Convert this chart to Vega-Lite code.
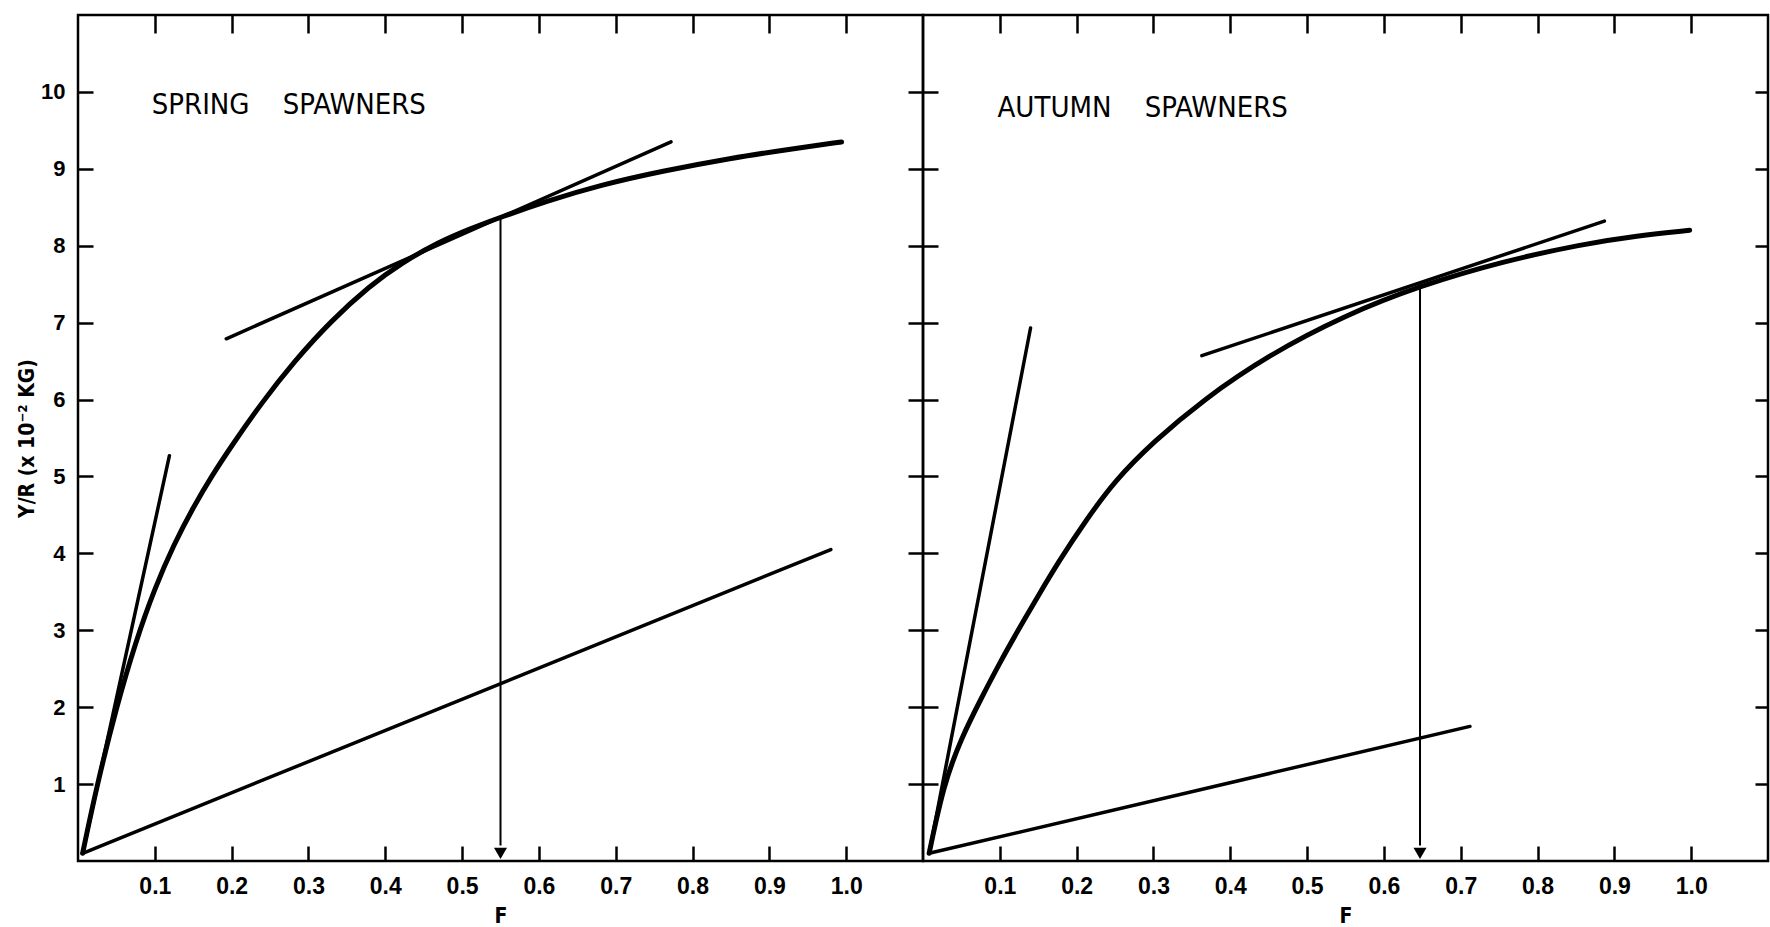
{
  "$schema": "https://vega.github.io/schema/vega-lite/v6.json",
  "autosize": {"type": "none"},
  "padding": {"left": 78, "top": 15, "right": 1692, "bottom": 912},
  "background": "white",
  "spacing": 0,
  "bounds": "flush",
  "datasets": {
    "d": [
      {"panel": "spring", "series": "curve", "F": 0.006, "Y": 0.1},
      {"panel": "spring", "series": "curve", "F": 0.025, "Y": 1.0},
      {"panel": "spring", "series": "curve", "F": 0.05, "Y": 2.0},
      {"panel": "spring", "series": "curve", "F": 0.075, "Y": 2.85},
      {"panel": "spring", "series": "curve", "F": 0.1, "Y": 3.55},
      {"panel": "spring", "series": "curve", "F": 0.125, "Y": 4.12},
      {"panel": "spring", "series": "curve", "F": 0.15, "Y": 4.6},
      {"panel": "spring", "series": "curve", "F": 0.175, "Y": 5.02},
      {"panel": "spring", "series": "curve", "F": 0.2, "Y": 5.4},
      {"panel": "spring", "series": "curve", "F": 0.24, "Y": 5.97},
      {"panel": "spring", "series": "curve", "F": 0.28, "Y": 6.48},
      {"panel": "spring", "series": "curve", "F": 0.33, "Y": 7.03},
      {"panel": "spring", "series": "curve", "F": 0.38, "Y": 7.48},
      {"panel": "spring", "series": "curve", "F": 0.42, "Y": 7.77},
      {"panel": "spring", "series": "curve", "F": 0.47, "Y": 8.05},
      {"panel": "spring", "series": "curve", "F": 0.51, "Y": 8.22},
      {"panel": "spring", "series": "curve", "F": 0.55, "Y": 8.37},
      {"panel": "spring", "series": "curve", "F": 0.61, "Y": 8.58},
      {"panel": "spring", "series": "curve", "F": 0.68, "Y": 8.79},
      {"panel": "spring", "series": "curve", "F": 0.76, "Y": 8.97},
      {"panel": "spring", "series": "curve", "F": 0.85, "Y": 9.14},
      {"panel": "spring", "series": "curve", "F": 0.93, "Y": 9.26},
      {"panel": "spring", "series": "curve", "F": 0.994, "Y": 9.35},
      {"panel": "spring", "series": "t0", "F": 0.006, "Y": 0.1},
      {"panel": "spring", "series": "t0", "F": 0.119, "Y": 5.27},
      {"panel": "spring", "series": "topt", "F": 0.193, "Y": 6.79},
      {"panel": "spring", "series": "topt", "F": 0.772, "Y": 9.35},
      {"panel": "spring", "series": "ray", "F": 0.006, "Y": 0.1},
      {"panel": "spring", "series": "ray", "F": 0.98, "Y": 4.05},
      {"panel": "spring", "series": "drop", "F": 0.55, "Y": 8.37},
      {"panel": "spring", "series": "drop", "F": 0.55, "Y": 0.2},
      {"panel": "spring", "series": "arrow", "F": 0.55, "Y": 0.1},
      {"panel": "spring", "series": "label", "F": 0.096, "Y": 9.71, "label": "SPRING\u00a0\u00a0\u00a0\u00a0SPAWNERS"},
      {"panel": "autumn", "series": "curve", "F": 0.008, "Y": 0.1},
      {"panel": "autumn", "series": "curve", "F": 0.027, "Y": 1.0},
      {"panel": "autumn", "series": "curve", "F": 0.05, "Y": 1.6},
      {"panel": "autumn", "series": "curve", "F": 0.075, "Y": 2.1},
      {"panel": "autumn", "series": "curve", "F": 0.1, "Y": 2.58},
      {"panel": "autumn", "series": "curve", "F": 0.125, "Y": 3.02},
      {"panel": "autumn", "series": "curve", "F": 0.15, "Y": 3.45},
      {"panel": "autumn", "series": "curve", "F": 0.177, "Y": 3.9},
      {"panel": "autumn", "series": "curve", "F": 0.21, "Y": 4.4},
      {"panel": "autumn", "series": "curve", "F": 0.25, "Y": 4.95},
      {"panel": "autumn", "series": "curve", "F": 0.3, "Y": 5.45},
      {"panel": "autumn", "series": "curve", "F": 0.365, "Y": 6.0},
      {"panel": "autumn", "series": "curve", "F": 0.45, "Y": 6.58},
      {"panel": "autumn", "series": "curve", "F": 0.55, "Y": 7.1},
      {"panel": "autumn", "series": "curve", "F": 0.647, "Y": 7.48},
      {"panel": "autumn", "series": "curve", "F": 0.756, "Y": 7.8},
      {"panel": "autumn", "series": "curve", "F": 0.858, "Y": 8.02},
      {"panel": "autumn", "series": "curve", "F": 0.93, "Y": 8.13},
      {"panel": "autumn", "series": "curve", "F": 0.998, "Y": 8.2},
      {"panel": "autumn", "series": "t0", "F": 0.008, "Y": 0.1},
      {"panel": "autumn", "series": "t0", "F": 0.14, "Y": 6.93},
      {"panel": "autumn", "series": "topt", "F": 0.363, "Y": 6.57},
      {"panel": "autumn", "series": "topt", "F": 0.887, "Y": 8.32},
      {"panel": "autumn", "series": "ray", "F": 0.008, "Y": 0.1},
      {"panel": "autumn", "series": "ray", "F": 0.712, "Y": 1.75},
      {"panel": "autumn", "series": "drop", "F": 0.647, "Y": 7.48},
      {"panel": "autumn", "series": "drop", "F": 0.647, "Y": 0.2},
      {"panel": "autumn", "series": "arrow", "F": 0.647, "Y": 0.1},
      {"panel": "autumn", "series": "label", "F": 0.097, "Y": 9.67, "label": "AUTUMN\u00a0\u00a0\u00a0\u00a0SPAWNERS"}
    ]
  },
  "hconcat": [
    {
      "width": 845,
      "height": 846,
      "data": {"name": "d"},
      "transform": [{"filter": "datum.panel === 'spring'"}],
      "layer": [
        {
          "transform": [{"filter": "datum.series === 'curve'"}],
          "mark": {"type": "line", "color": "black", "strokeWidth": 5, "interpolate": "basis", "strokeCap": "round"},
          "encoding": {
            "x": {"field": "F", "type": "quantitative", "scale": {"domain": [0, 1.1], "nice": false, "zero": false},
              "axis": {"orient": "bottom", "values": [0.1, 0.2, 0.3, 0.4, 0.5, 0.6, 0.7, 0.8, 0.9, 1.0], "format": ".1f", "tickSize": -15, "labelPadding": 29, "labelFontSize": 23, "labelOverlap": false, "labelFlush": false, "title": "F", "titleFontSize": 21, "titlePadding": 7}},
            "y": {"field": "Y", "type": "quantitative", "scale": {"domain": [0, 11], "nice": false},
              "axis": {"orient": "left", "values": [1, 2, 3, 4, 5, 6, 7, 8, 9, 10], "format": "d", "tickSize": -15, "labelPadding": 28, "labelFontSize": 22, "labelOverlap": false, "labelFlush": false, "title": "Y/R (x 10\u207b\u00b2 KG)", "titleFontSize": 21, "titlePadding": 3}}
          }
        },
        {
          "transform": [{"filter": "datum.series === 't0' || datum.series === 'topt' || datum.series === 'ray'"}],
          "mark": {"type": "line", "color": "black", "strokeWidth": 3.5, "strokeCap": "round"},
          "encoding": {
            "x": {"field": "F", "type": "quantitative", "axis": {"orient": "top", "values": [0.1, 0.2, 0.3, 0.4, 0.5, 0.6, 0.7, 0.8, 0.9, 1.0], "labels": false, "tickSize": -18, "title": null}},
            "y": {"field": "Y", "type": "quantitative", "axis": {"orient": "right", "values": [1, 2, 3, 4, 5, 6, 7, 8, 9, 10], "labels": false, "tickSize": -15, "title": null}},
            "detail": {"field": "series"}
          }
        },
        {
          "transform": [{"filter": "datum.series === 'drop'"}],
          "mark": {"type": "line", "color": "black", "strokeWidth": 2},
          "encoding": {
            "x": {"field": "F", "type": "quantitative", "axis": null},
            "y": {"field": "Y", "type": "quantitative", "axis": null}
          }
        },
        {
          "transform": [{"filter": "datum.series === 'arrow'"}],
          "mark": {"type": "point", "shape": "triangle-down", "filled": true, "color": "black", "size": 170, "opacity": 1},
          "encoding": {
            "x": {"field": "F", "type": "quantitative", "axis": null},
            "y": {"field": "Y", "type": "quantitative", "axis": null}
          }
        },
        {
          "transform": [{"filter": "datum.series === 'label'"}],
          "mark": {"type": "text", "align": "left", "baseline": "alphabetic", "fontSize": 29, "color": "black", "font": "DejaVu Sans Condensed, DejaVu Sans"},
          "encoding": {
            "x": {"field": "F", "type": "quantitative", "axis": null},
            "y": {"field": "Y", "type": "quantitative", "axis": null},
            "text": {"field": "label"}
          }
        }
      ]
    },
    {
      "width": 845,
      "height": 846,
      "data": {"name": "d"},
      "transform": [{"filter": "datum.panel === 'autumn'"}],
      "layer": [
        {
          "transform": [{"filter": "datum.series === 'curve'"}],
          "mark": {"type": "line", "color": "black", "strokeWidth": 5, "interpolate": "basis", "strokeCap": "round"},
          "encoding": {
            "x": {"field": "F", "type": "quantitative", "scale": {"domain": [0, 1.1], "nice": false, "zero": false},
              "axis": {"orient": "bottom", "values": [0.1, 0.2, 0.3, 0.4, 0.5, 0.6, 0.7, 0.8, 0.9, 1.0], "format": ".1f", "tickSize": -15, "labelPadding": 29, "labelFontSize": 23, "labelOverlap": false, "labelFlush": false, "title": "F", "titleFontSize": 21, "titlePadding": 7}},
            "y": {"field": "Y", "type": "quantitative", "scale": {"domain": [0, 11], "nice": false},
              "axis": {"orient": "left", "values": [1, 2, 3, 4, 5, 6, 7, 8, 9, 10], "labels": false, "tickSize": -15, "title": null}}
          }
        },
        {
          "transform": [{"filter": "datum.series === 't0' || datum.series === 'topt' || datum.series === 'ray'"}],
          "mark": {"type": "line", "color": "black", "strokeWidth": 3.5, "strokeCap": "round"},
          "encoding": {
            "x": {"field": "F", "type": "quantitative", "axis": {"orient": "top", "values": [0.1, 0.2, 0.3, 0.4, 0.5, 0.6, 0.7, 0.8, 0.9, 1.0], "labels": false, "tickSize": -18, "title": null}},
            "y": {"field": "Y", "type": "quantitative", "axis": {"orient": "right", "values": [1, 2, 3, 4, 5, 6, 7, 8, 9, 10], "labels": false, "tickSize": -13, "title": null}},
            "detail": {"field": "series"}
          }
        },
        {
          "transform": [{"filter": "datum.series === 'drop'"}],
          "mark": {"type": "line", "color": "black", "strokeWidth": 2},
          "encoding": {
            "x": {"field": "F", "type": "quantitative", "axis": null},
            "y": {"field": "Y", "type": "quantitative", "axis": null}
          }
        },
        {
          "transform": [{"filter": "datum.series === 'arrow'"}],
          "mark": {"type": "point", "shape": "triangle-down", "filled": true, "color": "black", "size": 170, "opacity": 1},
          "encoding": {
            "x": {"field": "F", "type": "quantitative", "axis": null},
            "y": {"field": "Y", "type": "quantitative", "axis": null}
          }
        },
        {
          "transform": [{"filter": "datum.series === 'label'"}],
          "mark": {"type": "text", "align": "left", "baseline": "alphabetic", "fontSize": 29, "color": "black", "font": "DejaVu Sans Condensed, DejaVu Sans"},
          "encoding": {
            "x": {"field": "F", "type": "quantitative", "axis": null},
            "y": {"field": "Y", "type": "quantitative", "axis": null},
            "text": {"field": "label"}
          }
        }
      ]
    }
  ],
  "config": {
    "view": {"stroke": "black", "strokeWidth": 2.5},
    "axis": {
      "domain": false,
      "grid": false,
      "tickColor": "black",
      "tickWidth": 2.5,
      "labelColor": "black",
      "titleColor": "black",
      "labelFont": "Liberation Sans, Arial, DejaVu Sans",
      "titleFont": "DejaVu Sans Condensed, DejaVu Sans",
      "labelFontWeight": "bold",
      "titleFontWeight": "bold"
    }
  }
}
